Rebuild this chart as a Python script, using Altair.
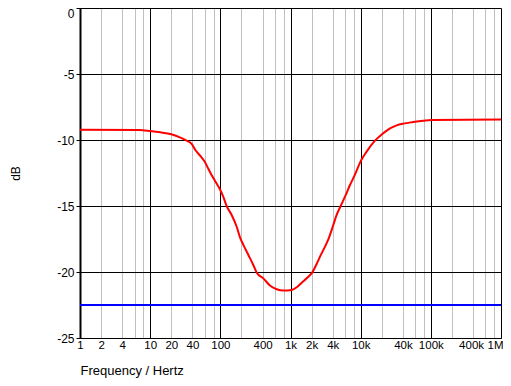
import altair as alt
import pandas as pd

# Red response curve (frequency in Hz, level in dB)
freq = [1, 7, 10, 14, 20, 27, 33, 39, 44, 54, 60, 67, 75, 84, 97, 110, 123, 145,
        171, 193, 213, 251, 295, 329, 410, 510, 635, 790, 1040, 1225, 1443, 1700,
        2046, 2360, 2632, 3102, 3460, 4075, 4545, 5185, 6045, 7043, 8032, 9250,
        10210, 12160, 15990, 20360, 26180, 32590, 40550, 56260, 78100, 102800, 1000000]
db = [-9.22, -9.24, -9.32, -9.42, -9.57, -9.82, -10.05, -10.30, -10.76, -11.31,
      -11.64, -12.15, -12.65, -13.10, -13.66, -14.29, -15.00, -15.68, -16.57,
      -17.45, -17.95, -18.71, -19.47, -20.03, -20.48, -21.03, -21.31, -21.41,
      -21.36, -21.16, -20.81, -20.48, -20.03, -19.39, -18.84, -18.08, -17.53,
      -16.44, -15.68, -15.00, -14.24, -13.41, -12.78, -12.02, -11.52, -10.88,
      -10.05, -9.55, -9.12, -8.89, -8.76, -8.64, -8.54, -8.48, -8.45]

# Blue reference level
ref_freq = [1, 1000000]
ref_db = [-22.5, -22.5]

# Axis ticks / labels
x_major = [1, 10, 100, 1000, 10000, 100000, 1000000]
x_minor_mult = [2, 4, 6, 8]
x_label_vals = [1, 2, 4, 10, 20, 40, 100, 400, 1000, 2000, 4000, 10000, 40000,
                100000, 400000, 1000000]
x_label_text = ["1", "2", "4", "10", "20", "40", "100", "400", "1k", "2k", "4k",
                "10k", "40k", "100k", "400k", "1M"]
y_ticks = [-25, -22.5, -20, -17.5, -15, -12.5, -10, -7.5, -5, -2.5, 0]

x_ticks = sorted(set(x_major + [m * d for d in x_major[:-1] for m in x_minor_mult]))

curve = pd.DataFrame({"f": freq, "db": db})
ref = pd.DataFrame({"f": ref_freq, "db": ref_db})

vals_js = "[" + ",".join(str(v) for v in x_label_vals) + "]"
text_js = "[" + ",".join("'" + t + "'" for t in x_label_text) + "]"
major_js = "[" + ",".join(str(v) for v in x_major) + "]"

x_scale = alt.Scale(type="log", domain=[1, 1000000], nice=False)
y_scale = alt.Scale(domain=[-25, 0], nice=False)

x_axis = alt.Axis(
    values=x_ticks,
    title="Frequency / Hertz",
    titleFontSize=13, titleFontWeight="normal", titleColor="black",
    titleAlign="left", titleBaseline="alphabetic", titleX=0, titleY=36,
    labelExpr=f"indexof({vals_js}, datum.value) >= 0 ? {text_js}[indexof({vals_js}, datum.value)] : ''",
    labelOverlap=False, labelFlush=False, labelBound=False,
    labelFontSize=11.5, labelColor="black", labelPadding=1,
    labelAlign={"condition": {"test": "datum.value === 1000000", "value": "right"}, "value": "center"},
    labelOffset={"condition": [{"test": "datum.value === 1000000", "value": 2},
                               {"test": "datum.value === 400000", "value": -2}], "value": 0},
    ticks=False, tickSize=0,
    domainColor="black", domainWidth=1,
    grid=True,
    gridColor={"condition": {"test": f"indexof({major_js}, datum.value) >= 0", "value": "black"},
               "value": "#c0c0c0"},
    gridWidth=1,
)

y_axis = alt.Axis(
    values=y_ticks,
    title="dB",
    titleFontSize=12, titleFontWeight="normal", titleColor="black",
    titleAngle=270, titleAlign="center", titleBaseline="alphabetic",
    titleX=-61, titleY=165,
    labelExpr="datum.value % 5 === 0 ? '' + datum.value : ''",
    labelFontSize=12, labelColor="black", labelPadding=2,
    labelBaseline={"condition": {"test": "datum.value === 0", "value": "top"}, "value": "middle"},
    tickSize=4, tickColor="black",
    tickOpacity={"condition": {"test": "datum.value % 5 === 0", "value": 1}, "value": 0},
    domainColor="black", domainWidth=2,
    grid=True,
    gridColor={"condition": {"test": "datum.value % 5 === 0", "value": "black"},
               "value": "#c0c0c0"},
    gridWidth=1,
)

blue = alt.Chart(ref).mark_line(color="#0000ff", strokeWidth=2).encode(
    x=alt.X("f:Q", scale=x_scale, axis=x_axis),
    y=alt.Y("db:Q", scale=y_scale, axis=y_axis),
)

red = alt.Chart(curve).mark_line(color="#ff0000", strokeWidth=2, interpolate="monotone").encode(
    x=alt.X("f:Q", scale=x_scale),
    y=alt.Y("db:Q", scale=y_scale),
)

chart = alt.layer(blue, red).properties(
    width=421, height=330,
    autosize=alt.AutoSizeParams(type="none"),
    padding={"left": 72, "top": 0, "right": 2, "bottom": 40},
).configure(font="Liberation Sans").configure_view(stroke=None)

chart.save("out.html", embed_options={"renderer": "svg", "actions": False})
